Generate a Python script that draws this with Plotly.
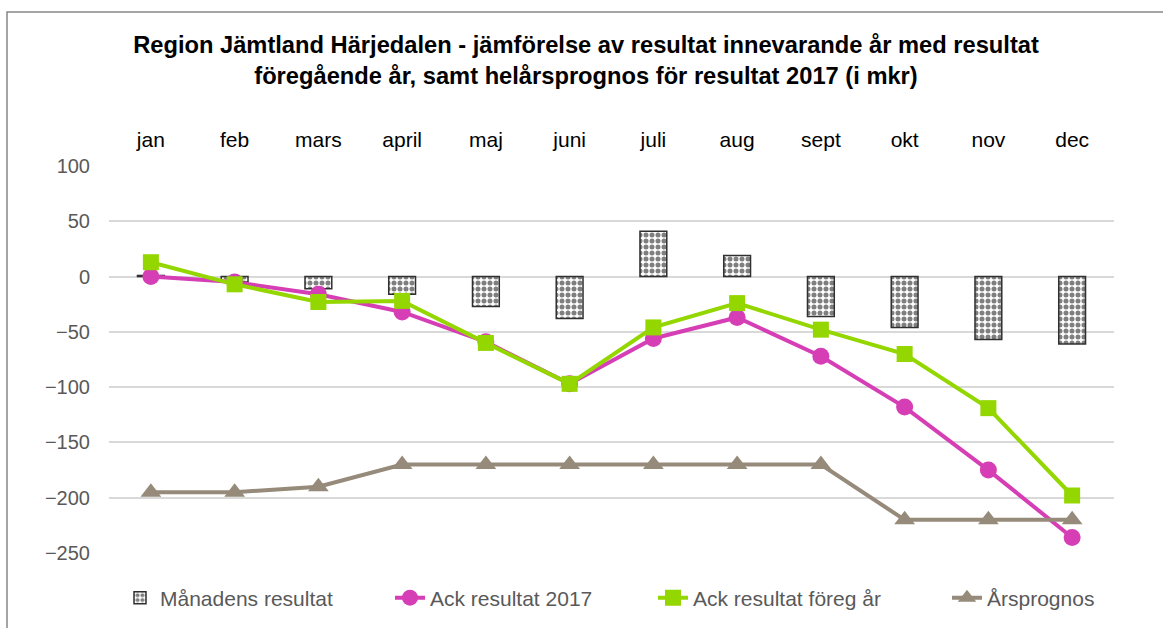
import plotly.graph_objects as go

months = ["jan", "feb", "mars", "april", "maj", "juni", "juli", "aug", "sept", "okt", "nov", "dec"]
manadens_resultat = [1, -5, -11, -16, -27, -38, 41, 19, -36, -46, -57, -61]
ack_2017 = [0, -5, -16, -32, -59, -97, -56, -37, -72, -118, -175, -236]
ack_foreg = [13, -7, -23, -22, -60, -97, -46, -24, -48, -70, -119, -198]
arsprognos = [-195, -195, -190, -170, -170, -170, -170, -170, -170, -220, -220, -220]
y_ticks = [100, 50, 0, -50, -100, -150, -200, -250]

FONT = "Liberation Sans, Arial, sans-serif"

fig = go.Figure()
fig.add_trace(go.Bar(
    x=months, y=manadens_resultat, name="Månadens resultat", width=0.32, legend="legend",
    marker=dict(color="white", line=dict(color="#303030", width=1.5),
                pattern=dict(shape=".", fgcolor="black", bgcolor="white", size=6, solidity=0.55)),
))
fig.add_trace(go.Scatter(
    x=months, y=ack_2017, name="Ack resultat 2017", mode="lines+markers", legend="legend2",
    line=dict(color="#D63EB6", width=4), marker=dict(symbol="circle", size=17, color="#D63EB6"),
))
fig.add_trace(go.Scatter(
    x=months, y=ack_foreg, name="Ack resultat föreg år", mode="lines+markers", legend="legend3",
    line=dict(color="#94D600", width=4), marker=dict(symbol="square", size=16, color="#94D600"),
))
fig.add_trace(go.Scatter(
    x=months, y=arsprognos, name="Årsprognos", mode="lines+markers", legend="legend4",
    line=dict(color="#968A7A", width=4), marker=dict(symbol="triangle-up", size=18, color="#968A7A"),
))


def legend_at(text_x):
    return dict(orientation="h", xref="container", yref="container",
                x=(text_x - 40) / 1163, xanchor="left", y=1 - 598 / 628, yanchor="middle",
                font=dict(family=FONT, size=21, color="#595959"), bgcolor="rgba(0,0,0,0)")


fig.update_layout(
    width=1163, height=628,
    margin=dict(l=109, r=49, t=166, b=75, autoexpand=False),
    paper_bgcolor="white", plot_bgcolor="white",
    font=dict(family=FONT, size=20, color="#595959"),
    title=dict(
        text="<b>Region Jämtland Härjedalen - jämförelse av resultat innevarande år med resultat<br>föregående år, samt helårsprognos för resultat 2017 (i mkr)</b>",
        x=586 / 1163, xref="container", xanchor="center",
        y=1 - 53 / 628, yref="container", yanchor="middle",
        font=dict(family=FONT, size=23.7, color="black"),
    ),
    xaxis=dict(side="top", showgrid=False, showline=False, zeroline=False, ticks="",
               tickfont=dict(color="black", size=21), ticklabelstandoff=14,
               range=[-0.5, 11.5], automargin=False),
    yaxis=dict(range=[-250, 100], tickvals=y_ticks, showgrid=True, gridcolor="#D9D9D9",
               gridwidth=1.5, zeroline=False, showline=False, ticks="",
               tickfont=dict(color="#595959", size=20), ticklabelstandoff=18, automargin=False),
    legend=legend_at(160),
    legend2=legend_at(430),
    legend3=legend_at(693),
    legend4=legend_at(987),
    showlegend=True,
    shapes=[dict(type="rect", xref="paper", yref="paper",
                 x0=(7 - 109) / 1005, x1=1.2, y0=(553 - 12) / 387, y1=-0.4,
                 line=dict(color="#868686", width=1.5), fillcolor="rgba(0,0,0,0)", layer="below")],
)

fig.write_html("out.html", config={"displayModeBar": False},
               post_script="document.body.style.margin='0';")
